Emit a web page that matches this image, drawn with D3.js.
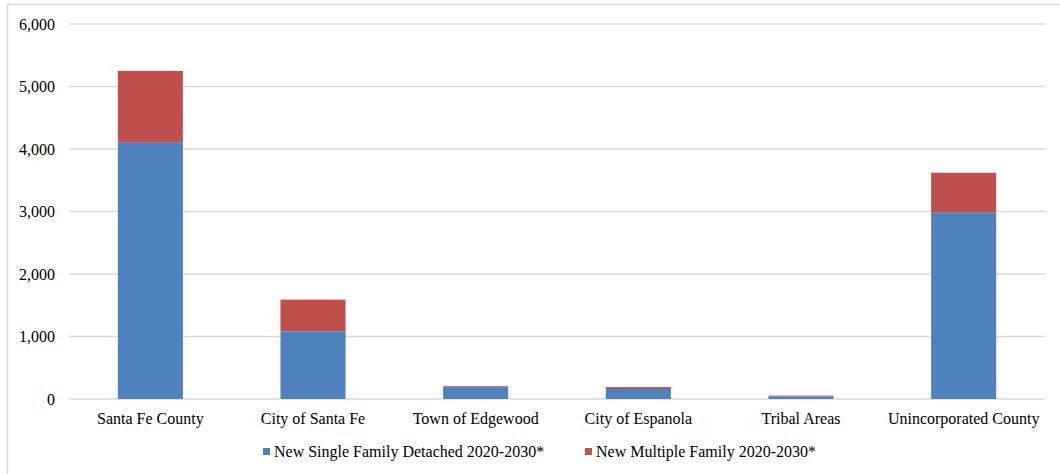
<!DOCTYPE html>
<html>
<head>
<meta charset="utf-8">
<script src="https://cdn.jsdelivr.net/npm/d3@7"></script>
<style>
  html, body { margin: 0; padding: 0; background: #fff; }
  svg { display: block; }
  svg text { font-family: "Liberation Serif", "Times New Roman", "DejaVu Serif", serif !important; fill: #000; }
</style>
</head>
<body>
<svg id="chart" width="1060" height="474"></svg>
<script>
// Projected new housing units by area, 2020-2030
const categories = ["Santa Fe County", "City of Santa Fe", "Town of Edgewood", "City of Espanola", "Tribal Areas", "Unincorporated County"];
const singleFamily = [4100, 1080, 190, 160, 40, 2980];
const multipleFamily = [1150, 510, 15, 30, 15, 640];
const seriesNames = ["New Single Family Detached 2020-2030*", "New Multiple Family 2020-2030*"];
const yTicks = [0, 1000, 2000, 3000, 4000, 5000, 6000];
const colors = ["#4F81BD", "#C0504D"];

const svg = d3.select("#chart");
const margin = { left: 69, right: 15, top: 24, bottom: 75 };
const W = 1060, H = 474;
const FONT_SIZE = "16px";

// outer chart frame
svg.append("rect")
  .attr("x", 7.5).attr("y", 4.5)
  .attr("width", 1060).attr("height", 480)
  .attr("fill", "none").attr("stroke", "#d9d9d9").attr("stroke-width", 1.5);

const x = d3.scaleBand()
  .domain(categories)
  .range([margin.left, W - margin.right])
  .paddingInner(0.6)
  .paddingOuter(0.3);

const y = d3.scaleLinear()
  .domain([0, 6000])
  .range([H - margin.bottom, margin.top]);

// gridlines
svg.append("g")
  .selectAll("line")
  .data(yTicks)
  .join("line")
  .attr("x1", margin.left).attr("x2", W - margin.right)
  .attr("y1", d => y(d)).attr("y2", d => y(d))
  .attr("stroke", "#d9d9d9").attr("stroke-width", 1.5);

// y axis labels
const yAxis = d3.axisLeft(y).tickValues(yTicks).tickFormat(d3.format(",")).tickSize(0).tickPadding(14);
const gy = svg.append("g").attr("transform", `translate(${margin.left},0)`).call(yAxis)
  .attr("font-family", null).attr("font-size", FONT_SIZE);
gy.select(".domain").remove();
gy.selectAll("text").attr("fill", "#000");

// stacked bars
const rows = categories.map((c, i) => ({ category: c, single: singleFamily[i], multiple: multipleFamily[i] }));
const stack = d3.stack().keys(["single", "multiple"]);
const layers = stack(rows);

svg.append("g")
  .selectAll("g")
  .data(layers)
  .join("g")
  .attr("fill", (d, i) => colors[i])
  .selectAll("rect")
  .data(d => d)
  .join("rect")
  .attr("x", d => x(d.data.category))
  .attr("width", x.bandwidth())
  .attr("y", d => y(d[1]))
  .attr("height", d => y(d[0]) - y(d[1]));

// category axis
const xAxis = d3.axisBottom(x).tickSize(0).tickPadding(14);
const gx = svg.append("g").attr("transform", `translate(0,${y(0)})`).call(xAxis)
  .attr("font-family", null).attr("font-size", FONT_SIZE);
gx.select(".domain").remove();
gx.selectAll("text").attr("fill", "#000");

// legend
const legendX = [263, 585];
const legend = svg.append("g").attr("font-size", FONT_SIZE);
seriesNames.forEach((name, i) => {
  legend.append("rect")
    .attr("x", legendX[i]).attr("y", 448)
    .attr("width", 7).attr("height", 7)
    .attr("fill", colors[i]);
  legend.append("text")
    .attr("x", legendX[i] + 11).attr("y", 457)
    .text(name);
});
</script>
</body>
</html>
